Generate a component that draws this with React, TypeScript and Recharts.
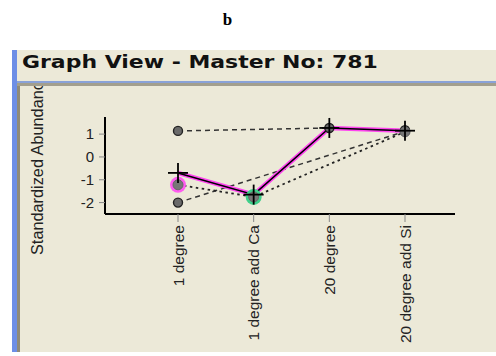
import React from "react";
import { LineChart, Line, XAxis, YAxis } from "recharts";

const categories = ["1 degree", "1 degree add Ca", "20 degree", "20 degree add Si"];
const upperRef = [1.14, null, 1.27, 1.17];
const lowerRef = [-2.0, null, null, 1.12];
const selected = [-1.22, -1.75, null, 1.1];
const master = [-0.7, -1.65, 1.27, 1.15];
const yTicks = [-2, -1, 0, 1];

const data = categories.map((c, i) => ({
  name: c,
  upperRef: upperRef[i],
  lowerRef: lowerRef[i],
  selected: selected[i],
  master: master[i]
}));

// halo colour behind the highlighted points of the selected profile
const HALO: Record<number, string> = { 0: "#ff5cf0", 1: "#3fd08a" };

const BG = "#ece9d8";

const GreyDot = (props: any) => {
  const { cx, cy, value } = props;
  if (value == null || cx == null || cy == null) return <g />;
  return <circle cx={cx} cy={cy} r={4.5} fill="#6a6a6a" stroke="#222" strokeWidth={1.4} />;
};

const HaloDot = (props: any) => {
  const { cx, cy, value, index } = props;
  if (value == null || cx == null || cy == null) return <g />;
  const halo = HALO[index];
  return (
    <g>
      {halo && <circle cx={cx} cy={cy} r={8} fill={halo} />}
      <circle cx={cx} cy={cy} r={5} fill="#777" stroke="#666" strokeWidth={1} />
    </g>
  );
};

const Cross = (props: any) => {
  const { cx, cy, value } = props;
  if (value == null || cx == null || cy == null) return <g />;
  return (
    <g stroke="#000" strokeWidth={1.8}>
      <line x1={cx - 10} y1={cy} x2={cx + 10} y2={cy} />
      <line x1={cx} y1={cy - 10} x2={cx} y2={cy + 10} />
    </g>
  );
};

const XTick = (props: any) => {
  const { x, y, payload } = props;
  return (
    <text
      x={x}
      y={y}
      transform={`rotate(-90 ${x} ${y})`}
      textAnchor="end"
      dominantBaseline="central"
      fontSize={15.5}
      fontFamily="'Liberation Sans', Arial, sans-serif"
      fill="#222"
    >
      {payload.value}
    </text>
  );
};

export default function App() {
  return (
    <div style={{ position: "fixed", left: 0, top: 0, width: 496, height: 356, background: "#fff", overflow: "hidden" }}>
      <div
        style={{
          position: "absolute",
          left: 0,
          top: 10,
          width: 455,
          textAlign: "center",
          fontFamily: "'Liberation Serif', serif",
          fontWeight: "bold",
          fontSize: 17
        }}
      >
        b
      </div>
      {/* panel */}
      <div style={{ position: "absolute", left: 12, top: 50, width: 484, height: 302, background: BG }} />
      <div style={{ position: "absolute", left: 12, top: 50, width: 5, height: 302, background: "#6d8ee6" }} />
      <div style={{ position: "absolute", left: 17, top: 86, width: 3, height: 266, background: "#8f8a78" }} />
      <div style={{ position: "absolute", left: 17, top: 81, width: 479, height: 2, background: "#8aa2d8" }} />
      <div style={{ position: "absolute", left: 17, top: 83, width: 479, height: 3, background: "#a39f8e" }} />
      <div
        style={{
          position: "absolute",
          left: 22,
          top: 51,
          fontFamily: "'DejaVu Sans', Tahoma, sans-serif",
          fontWeight: "bold",
          fontSize: 18,
          color: "#111",
          whiteSpace: "nowrap",
          transform: "scaleX(1.22)",
          transformOrigin: "0 0"
        }}
      >
        Graph View - Master No: 781
      </div>
      {/* y axis title, clipped by the header */}
      <div style={{ position: "absolute", left: 22, top: 86, width: 30, height: 180, overflow: "hidden" }}>
        <div
          style={{
            position: "absolute",
            left: 6,
            top: 169,
            transform: "rotate(-90deg)",
            transformOrigin: "0 0",
            fontFamily: "'Liberation Sans', Arial, sans-serif",
            fontSize: 16.3,
            color: "#222",
            whiteSpace: "nowrap",
            lineHeight: "18px"
          }}
        >
          Standardized Abundance
        </div>
      </div>
      <div style={{ position: "absolute", left: 0, top: 0 }}>
        <LineChart width={496} height={356} data={data} margin={{ top: 117, right: 41, bottom: 12, left: 60 }}>
          <XAxis
            dataKey="name"
            scale="point"
            padding={{ left: 73, right: 50 }}
            height={130}
            interval={0}
            axisLine={{ stroke: "#000", strokeWidth: 2 }}
            tickLine={{ stroke: "#888" }}
            tickSize={8}
            tickMargin={3}
            tick={<XTick />}
          />
          <YAxis
            type="number"
            domain={[-2.5, 1.75]}
            ticks={yTicks}
            width={45}
            allowDataOverflow
            axisLine={{ stroke: "#000", strokeWidth: 2 }}
            tickLine={{ stroke: "#888" }}
            tickSize={6}
            tickMargin={5}
            tick={{ fontSize: 15, fill: "#222", fontFamily: "'Liberation Sans', Arial, sans-serif" }}
          />
          <Line
            dataKey="upperRef"
            stroke="#333"
            strokeWidth={1.5}
            strokeDasharray="5 4"
            connectNulls
            dot={<GreyDot />}
            isAnimationActive={false}
          />
          <Line
            dataKey="lowerRef"
            stroke="#333"
            strokeWidth={1.5}
            strokeDasharray="5 4"
            connectNulls
            dot={<GreyDot />}
            isAnimationActive={false}
          />
          <Line
            dataKey="selected"
            stroke="#222"
            strokeWidth={1.8}
            strokeDasharray="2.5 3.5"
            connectNulls
            dot={<HaloDot />}
            isAnimationActive={false}
          />
          <Line dataKey="master" stroke="#ff44f0" strokeWidth={4.5} dot={false} isAnimationActive={false} />
          <Line dataKey="master" stroke="#000" strokeWidth={1.5} dot={<Cross />} isAnimationActive={false} />
        </LineChart>
      </div>
    </div>
  );
}
